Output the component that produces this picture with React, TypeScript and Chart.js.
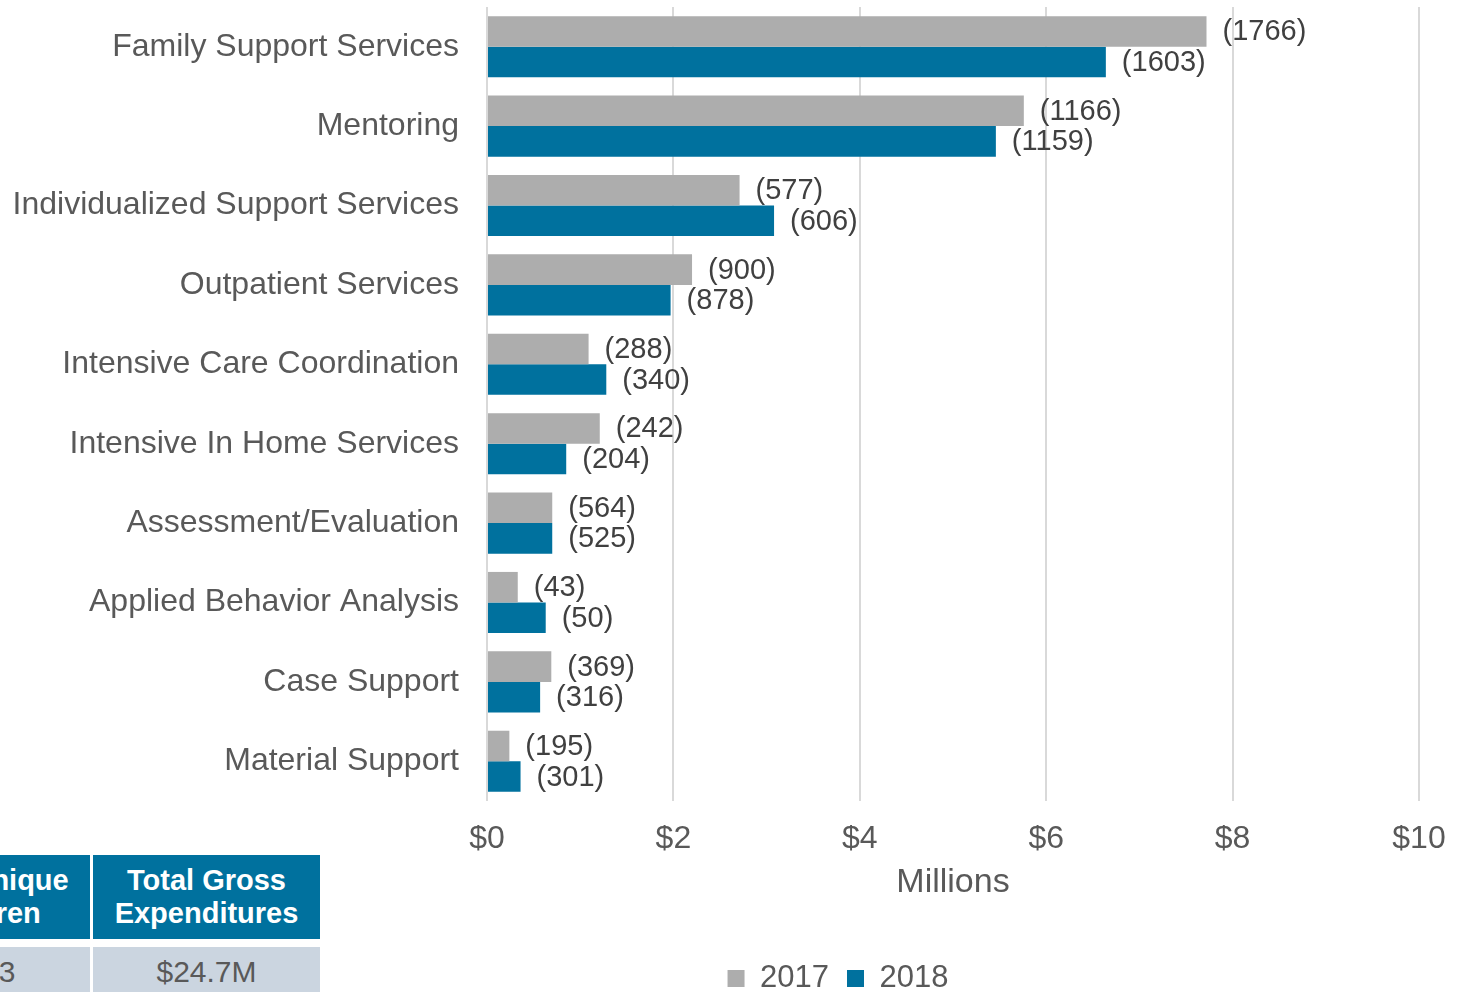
import React, { useEffect, useRef } from "react";
import { Chart, registerables } from "chart.js";

Chart.register(...registerables);

const categories = [
  "Family Support Services",
  "Mentoring",
  "Individualized Support Services",
  "Outpatient Services",
  "Intensive Care Coordination",
  "Intensive In Home Services",
  "Assessment/Evaluation",
  "Applied Behavior Analysis",
  "Case Support",
  "Material Support",
];

const spend2017 = [7.72, 5.76, 2.71, 2.2, 1.09, 1.21, 0.7, 0.33, 0.69, 0.24];
const spend2018 = [6.64, 5.46, 3.08, 1.97, 1.28, 0.85, 0.7, 0.63, 0.57, 0.36];

const counts2017 = [1766, 1166, 577, 900, 288, 242, 564, 43, 369, 195];
const counts2018 = [1603, 1159, 606, 878, 340, 204, 525, 50, 316, 301];

const xTicks = [0, 2, 4, 6, 8, 10];

const seriesLabels = ["2017", "2018"];

const tableHeaders = ["Total Unique\nChildren", "Total Gross\nExpenditures"];
const tableValues = ["2,873", "$24.7M"];

const GRAY = "#ADADAD";
const BLUE = "#00719E";
const FONT = "'Liberation Sans', Arial, sans-serif";

const countLabelPlugin = {
  id: "countLabels",
  afterDatasetsDraw(chart: any) {
    const ctx = chart.ctx;
    ctx.save();
    ctx.font = `29px ${FONT}`;
    ctx.fillStyle = "#404040";
    ctx.textAlign = "left";
    ctx.textBaseline = "middle";
    const all = [counts2017, counts2018];
    chart.data.datasets.forEach((ds: any, di: number) => {
      const meta = chart.getDatasetMeta(di);
      meta.data.forEach((bar: any, i: number) => {
        ctx.fillText(`(${all[di][i]})`, bar.x + 16, bar.y + 1);
      });
    });
    ctx.restore();
  },
};

// shift the legend block so it is centred where the original one sits
const legendShiftPlugin = {
  id: "legendShift",
  afterUpdate(chart: any) {
    const lg = chart.legend;
    if (!lg) return;
    lg.left = 257;
    if (typeof lg.adjustHitBoxes === "function") lg.adjustHitBoxes();
  },
};

export default function App() {
  const canvasRef = useRef<HTMLCanvasElement | null>(null);

  useEffect(() => {
    if (!canvasRef.current) return;
    const chart = new Chart(canvasRef.current, {
      type: "bar",
      data: {
        labels: categories,
        datasets: [
          {
            label: seriesLabels[0],
            data: spend2017,
            backgroundColor: GRAY,
            borderWidth: 0,
            categoryPercentage: 0.77,
            barPercentage: 1.0,
          },
          {
            label: seriesLabels[1],
            data: spend2018,
            backgroundColor: BLUE,
            borderWidth: 0,
            categoryPercentage: 0.77,
            barPercentage: 1.0,
          },
        ],
      },
      options: {
        indexAxis: "y",
        animation: false,
        responsive: false,
        maintainAspectRatio: false,
        layout: { padding: { top: 7, right: 39, left: 0, bottom: 0 } },
        plugins: {
          tooltip: { enabled: false },
          legend: {
            display: true,
            position: "bottom",
            labels: {
              boxWidth: 17,
              boxHeight: 17,
              padding: 18,
              color: "#595959",
              font: { family: FONT, size: 31 },
            },
          },
        },
        scales: {
          x: {
            min: 0,
            max: 10,
            afterBuildTicks: (scale: any) => {
              scale.ticks = xTicks.map((v) => ({ value: v }));
            },
            afterFit: (scale: any) => {
              scale.height = 144;
            },
            grid: {
              color: "#D9D9D9",
              lineWidth: 2,
              drawTicks: true,
              tickLength: 19,
              tickColor: "rgba(0,0,0,0)",
            },
            border: { display: false },
            ticks: {
              padding: 0,
              color: "#595959",
              font: { family: FONT, size: 32 },
              callback: (v: any) => "$" + v,
            },
            title: {
              display: true,
              text: "Millions",
              color: "#595959",
              font: { family: FONT, size: 34 },
              padding: { top: 0, bottom: 42 },
            },
          },
          y: {
            afterFit: (scale: any) => {
              scale.width = 487;
            },
            grid: {
              display: true,
              drawOnChartArea: false,
              drawTicks: true,
              tickLength: 28,
              color: "rgba(0,0,0,0)",
              tickColor: "rgba(0,0,0,0)",
            },
            border: { display: false },
            ticks: {
              padding: 0,
              autoSkip: false,
              color: "#595959",
              font: { family: FONT, size: 32, lineHeight: 0.4 },
            },
          },
        },
      },
      plugins: [countLabelPlugin, legendShiftPlugin],
    } as any);
    return () => chart.destroy();
  }, []);

  const cellBase: React.CSSProperties = {
    position: "absolute",
    display: "flex",
    alignItems: "center",
    justifyContent: "center",
    textAlign: "center",
    fontFamily: FONT,
  };

  return (
    <div
      style={{
        position: "fixed",
        left: 0,
        top: 0,
        width: 1458,
        height: 992,
        overflow: "hidden",
        background: "#FFFFFF",
      }}
    >
      <canvas ref={canvasRef} width={1458} height={1004} style={{ display: "block" }} />
      <div
        style={{
          ...cellBase,
          left: -126,
          top: 855,
          width: 216,
          height: 84,
          background: BLUE,
          color: "#FFFFFF",
          fontWeight: "bold",
          fontSize: 29,
          lineHeight: "33px",
        }}
      >
        <span style={{ whiteSpace: "pre-line" }}>{tableHeaders[0]}</span>
      </div>
      <div
        style={{
          ...cellBase,
          left: 93,
          top: 855,
          width: 227,
          height: 84,
          background: BLUE,
          color: "#FFFFFF",
          fontWeight: "bold",
          fontSize: 29,
          lineHeight: "33px",
        }}
      >
        <span style={{ whiteSpace: "pre-line" }}>{tableHeaders[1]}</span>
      </div>
      <div
        style={{
          ...cellBase,
          left: -134,
          top: 947,
          width: 224,
          height: 50,
          background: "#CBD5E0",
          color: "#595959",
          fontSize: 30,
        }}
      >
        {tableValues[0]}
      </div>
      <div
        style={{
          ...cellBase,
          left: 93,
          top: 947,
          width: 227,
          height: 50,
          background: "#CBD5E0",
          color: "#595959",
          fontSize: 30,
        }}
      >
        {tableValues[1]}
      </div>
    </div>
  );
}
